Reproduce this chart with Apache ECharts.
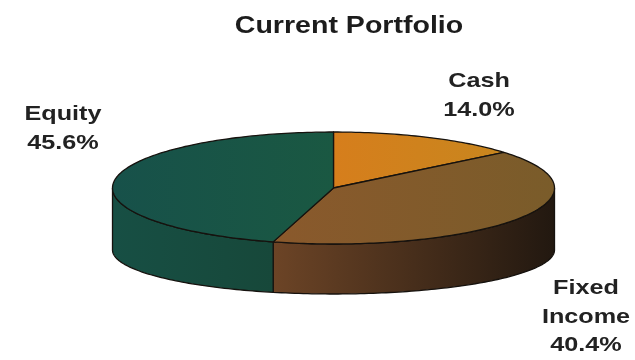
<!DOCTYPE html>
<html>
<head>
<meta charset="utf-8">
<script src="https://cdn.jsdelivr.net/npm/echarts@6/dist/echarts.min.js"></script>
<style>
  html, body { margin: 0; padding: 0; background: #ffffff; }
  #chart { width: 635px; height: 360px; }
</style>
</head>
<body>
<div id="chart"></div>
<script>
// Portfolio allocation, in percent, clockwise from 12 o'clock
const categories = ['Cash', 'Fixed Income', 'Equity'];
const shares = [14.0, 40.4, 45.6];
const labelLines = [['Cash'], ['Fixed', 'Income'], ['Equity']];
const chartTitle = 'Current Portfolio';

// Disc layout (pixels): top ellipse, bottom ellipse for the rim
const disc = { cx: 333.5, cy: 188, rx: 221, ry: 56, bcy: 250, bry: 44 };
// Label anchor (centre x, top y) for each slice
const labelPos = [[479, 67], [586, 274], [63, 100]];

// Face colours per slice: top gradient (left -> right) and rim gradient
const topColors = [['#d67e1c', '#c8861e'], ['#8a592c', '#7a5c2a'], ['#17514a', '#1a5842']];
const sideColors = [['#d08018', '#9a6418'], ['#6c4426', '#221810'], ['#174f44', '#17483a']];

const total = shares.reduce((a, b) => a + b, 0);
const bounds = [];
let acc = 0;
shares.forEach(v => {
  const a0 = acc / total * Math.PI * 2;
  acc += v;
  bounds.push([a0, acc / total * Math.PI * 2]);
});

function topPt(t) { return [disc.cx + disc.rx * Math.sin(t), disc.cy - disc.ry * Math.cos(t)]; }
function botPt(t) { return [disc.cx + disc.rx * Math.sin(t), disc.bcy - disc.bry * Math.cos(t)]; }
function arc(fn, a, b) {
  const pts = [];
  const n = Math.max(4, Math.ceil(Math.abs(b - a) / 0.02));
  for (let i = 0; i <= n; i++) pts.push(fn(a + (b - a) * i / n));
  return pts;
}
function hGrad(x1, x2, stops) {
  return {
    type: 'linear', global: true, x: x1, y: 0, x2: x2, y2: 0,
    colorStops: [{ offset: 0, color: stops[0] }, { offset: 1, color: stops[1] }]
  };
}

function renderSlice(params, api) {
  const i = params.dataIndex;
  const [a, b] = bounds[i];
  const children = [];
  const edge = { stroke: '#16120e', lineWidth: 1.3, lineJoin: 'round' };

  // Visible rim: the front half of the disc (angles between 90 and 270 degrees)
  const lo = Math.max(a, Math.PI / 2), hi = Math.min(b, Math.PI * 1.5);
  if (hi > lo) {
    const pts = arc(topPt, lo, hi).concat(arc(botPt, hi, lo));
    const xs = pts.map(p => p[0]);
    children.push({
      type: 'polygon',
      shape: { points: pts },
      style: Object.assign({ fill: hGrad(Math.min(...xs), Math.max(...xs), sideColors[i]) }, edge)
    });
  }

  // Top face
  const topPts = [[disc.cx, disc.cy]].concat(arc(topPt, a, b));
  const txs = topPts.map(p => p[0]);
  children.push({
    type: 'polygon',
    shape: { points: topPts },
    style: Object.assign({ fill: hGrad(Math.min(...txs), Math.max(...txs), topColors[i]) }, edge)
  });

  // Category name and share label
  const text = labelLines[i].concat([api.value(0).toFixed(1) + '%']).join('\n');
  children.push({
    type: 'text',
    x: labelPos[i][0], y: labelPos[i][1],
    scaleX: 1.2,
    style: {
      text: text, x: 0, y: 0,
      align: 'center', verticalAlign: 'top',
      font: 'bold 21px "Liberation Sans", Arial, sans-serif',
      lineHeight: 28.5, fill: '#222222'
    }
  });
  return { type: 'group', children: children };
}

const chart = echarts.init(document.getElementById('chart'), null, { renderer: 'canvas' });
chart.setOption({
  backgroundColor: '#ffffff',
  animation: false,
  graphic: [{
    type: 'text',
    x: 349, y: 13,
    scaleX: 1.19,
    style: {
      text: chartTitle, x: 0, y: 0,
      align: 'center', verticalAlign: 'top',
      font: 'bold 24px "Liberation Sans", Arial, sans-serif',
      lineHeight: 26, fill: '#1c1c1c'
    }
  }],
  series: [{
    type: 'custom',
    coordinateSystem: 'none',
    renderItem: renderSlice,
    data: shares.map((v, i) => ({ name: categories[i], value: [v] }))
  }]
});
</script>
</body>
</html>
